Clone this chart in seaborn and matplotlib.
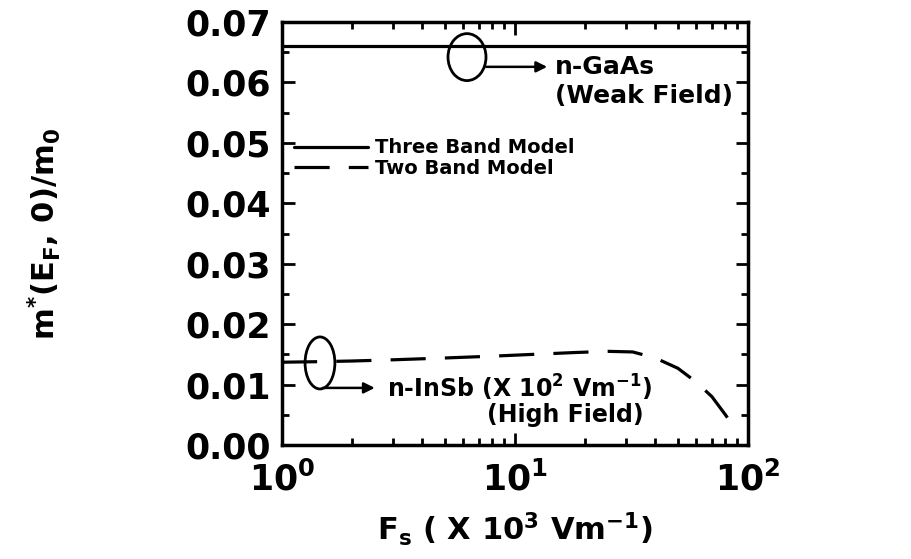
import numpy as np
import pandas as pd
import matplotlib
matplotlib.use("Agg")
import matplotlib.pyplot as plt
from matplotlib.patches import Ellipse
import seaborn as sns

# Effective mass at the Fermi level versus surface electric field
gaas_field = [1.0, 100.0]
gaas_mass = [0.066, 0.066]

insb_field = [1.0, 1.5, 2.0, 3.0, 5.0, 8.0, 12.0, 18.0, 25.0, 32.0,
              40.0, 50.0, 60.0, 70.0, 80.0, 88.0]
insb_mass = [0.0137, 0.0138, 0.0139, 0.0141, 0.0144, 0.0147, 0.0150, 0.0153,
             0.0155, 0.0154, 0.0144, 0.0127, 0.0104, 0.0080, 0.0050, 0.0027]

models = ["Three Band Model", "Two Band Model"]
x_ticks = [1, 10, 100]
x_tick_labels = [r"$10^0$", r"$10^1$", r"$10^2$"]
y_ticks = [0.00, 0.01, 0.02, 0.03, 0.04, 0.05, 0.06, 0.07]

df = pd.concat([
    pd.DataFrame({"F": gaas_field, "m": gaas_mass, "model": models[0]}),
    pd.DataFrame({"F": insb_field, "m": insb_mass, "model": models[1]}),
], ignore_index=True)

sns.set_theme(style="ticks")
plt.rcParams["font.family"] = ["DejaVu Sans"]
plt.rcParams["font.weight"] = "bold"
plt.rcParams["mathtext.fontset"] = "dejavusans"
plt.rcParams["mathtext.default"] = "bf"
plt.rcParams["text.color"] = "black"
plt.rcParams["axes.labelcolor"] = "black"

fig = plt.figure(figsize=(9.12, 5.59), dpi=100)
ax = fig.add_axes([282 / 912, 114 / 559, 466 / 912, 423 / 559])

sns.lineplot(data=df, x="F", y="m", style="model", style_order=models,
             dashes={models[0]: "", models[1]: (11, 6)},
             color="black", linewidth=2.3, sort=False, ax=ax, estimator=None)

ax.set_xscale("log")
ax.set_xlim(1, 100)
ax.set_ylim(0, 0.07)
ax.set_xticks(x_ticks)
ax.set_xticklabels(x_tick_labels)
ax.set_yticks(y_ticks)
ax.set_yticklabels([f"{v:.2f}" for v in y_ticks])
ax.yaxis.set_minor_locator(matplotlib.ticker.MultipleLocator(0.005))

for s in ax.spines.values():
    s.set_linewidth(2.5)
    s.set_color("black")
ax.tick_params(which="both", direction="in", top=True, right=True,
               colors="black", width=2)
ax.tick_params(which="major", length=9, labelsize=25)
ax.tick_params(axis="y", which="major", pad=8)
ax.tick_params(axis="x", which="major", pad=12)
ax.tick_params(which="minor", length=5)
for lab in ax.get_xticklabels() + ax.get_yticklabels():
    lab.set_fontweight("bold")

ax.set_xlabel(r"$F_s$ ( X 10$^3$ Vm$^{-1}$)", fontsize=22, fontweight="bold")
ax.set_ylabel(r"$m^{*}(E_{F},\,0)/m_0$", fontsize=22, fontweight="bold")
ax.xaxis.set_label_coords(0.5, -0.155)
ax.yaxis.set_label_coords(-0.47, 0.5)

leg = ax.legend(loc="upper left", bbox_to_anchor=(0.025, 0.725), frameon=False,
                fontsize=14, handlelength=3.8, handletextpad=0.4,
                labelspacing=0.1, borderpad=0, borderaxespad=0)
for t in leg.get_texts():
    t.set_fontweight("bold")
for h in leg.get_lines():
    h.set_linewidth(2.3)

# n-GaAs annotation
ax.add_patch(Ellipse((0.397, 0.917), 0.0815, 0.111, transform=ax.transAxes,
                     fill=False, lw=2, ec="black"))
ax.annotate("", xy=(0.575, 0.894), xytext=(0.432, 0.894),
            xycoords="axes fraction",
            arrowprops=dict(arrowstyle="-|>", color="black", lw=1.8,
                            mutation_scale=16))
ax.text(0.585, 0.894, "n-GaAs", transform=ax.transAxes, fontsize=18,
        fontweight="bold", va="center", ha="left")
ax.text(0.585, 0.826, "(Weak Field)", transform=ax.transAxes, fontsize=18,
        fontweight="bold", va="center", ha="left")

# n-InSb annotation
ax.add_patch(Ellipse((0.0815, 0.194), 0.064, 0.123, transform=ax.transAxes,
                     fill=False, lw=2, ec="black"))
ax.annotate("", xy=(0.205, 0.135), xytext=(0.0815, 0.135),
            xycoords="axes fraction",
            arrowprops=dict(arrowstyle="-|>", color="black", lw=1.8,
                            mutation_scale=16))
ax.text(0.225, 0.135, r"n-InSb (X 10$^2$ Vm$^{-1}$)", transform=ax.transAxes,
        fontsize=17, fontweight="bold", va="center", ha="left")
ax.text(0.44, 0.071, "(High Field)", transform=ax.transAxes, fontsize=17,
        fontweight="bold", va="center", ha="left")

fig.savefig("out.png", dpi=100)
